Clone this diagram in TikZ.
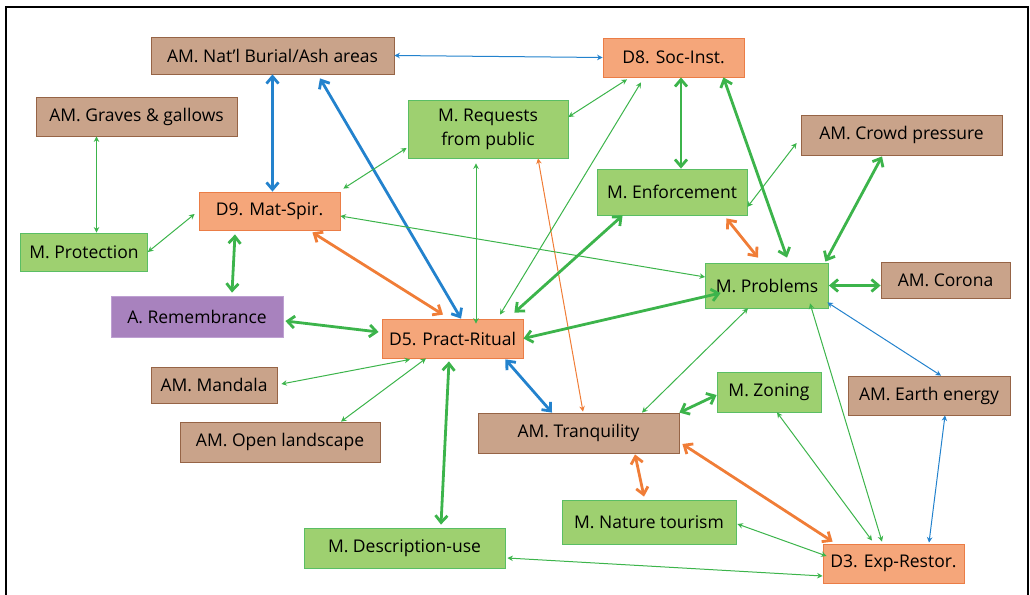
\documentclass[tikz,border=0pt]{standalone}
\usepackage{fontspec}
\setmainfont{Open Sans}
\usetikzlibrary{arrows.meta}

\definecolor{amfill}{RGB}{201,163,138}
\definecolor{amline}{RGB}{150,100,70}
\definecolor{dfill}{RGB}{245,166,122}
\definecolor{dline}{RGB}{235,125,70}
\definecolor{mfill}{RGB}{158,208,112}
\definecolor{mline}{RGB}{90,190,100}
\definecolor{afill}{RGB}{168,130,190}
\definecolor{aline}{RGB}{190,160,210}
\definecolor{grn}{RGB}{60,180,75}
\definecolor{blu}{RGB}{35,130,205}
\definecolor{orn}{RGB}{240,125,55}

\begin{document}
\begin{tikzpicture}[x=1pt, y=-1pt,
  box/.style={font=\fontsize{17.5}{24}\selectfont, text=black, inner sep=0pt, align=center, line width=0.8pt},
  amnode/.style={box, fill=amfill, draw=amline},
  dnode/.style={box, fill=dfill, draw=dline},
  mnode/.style={box, fill=mfill, draw=mline},
  anode/.style={box, fill=afill, draw=aline},
  thk/.style={line width=2.8pt, {Straight Barb[length=7pt,width=12pt]}-{Straight Barb[length=7pt,width=12pt]}},
  thn/.style={line width=1pt, {Stealth[length=5.5pt,width=5.5pt]}-{Stealth[length=5.5pt,width=5.5pt]}}]

\useasboundingbox (0,0) rectangle (1030,594);
\draw [line width=2pt] (6,7) rectangle (1028,620);

\node [amnode, minimum width=243pt, minimum height=37pt] (burial) at (272.5,55.5) {AM. Nat’l Burial/Ash areas};
\node [amnode, minimum width=201pt, minimum height=39pt] (graves) at (136.5,116.5) {AM. Graves \& gallows};
\node [mnode, minimum width=160pt, minimum height=58pt] (requests) at (488,129) {M. Requests\\from public};
\node [dnode, minimum width=141pt, minimum height=38pt] (d9) at (269.5,211) {D9. Mat-Spir.};
\node [mnode, minimum width=127pt, minimum height=38pt] (protection) at (84,252) {M. Protection};
\node [dnode, minimum width=141pt, minimum height=39pt] (d8) at (673.5,57.5) {D8. Soc-Inst.};
\node [amnode, minimum width=201pt, minimum height=40pt] (crowd) at (901.5,135) {AM. Crowd pressure};
\node [mnode, minimum width=150pt, minimum height=46pt] (enforce) at (672,192) {M. Enforcement};
\node [mnode, minimum width=123pt, minimum height=45pt] (problems) at (767,285.5) {M. Problems};
\node [amnode, minimum width=129pt, minimum height=36pt] (corona) at (945.5,280) {AM. Corona};
\node [anode, minimum width=172pt, minimum height=41pt] (remem) at (197,316.5) {A. Remembrance};
\node [dnode, minimum width=141pt, minimum height=39pt] (d5) at (452.5,338.5) {D5. Pract-Ritual};
\node [amnode, minimum width=126pt, minimum height=36pt] (mandala) at (214,385) {AM. Mandala};
\node [amnode, minimum width=200pt, minimum height=40pt] (openl) at (280,442) {AM. Open landscape};
\node [mnode, minimum width=201pt, minimum height=40pt] (descr) at (404.5,548) {M. Description-use};
\node [amnode, minimum width=201pt, minimum height=40pt] (tranq) at (578.5,433) {AM. Tranquility};
\node [mnode, minimum width=104pt, minimum height=40pt] (zoning) at (769,392) {M. Zoning};
\node [amnode, minimum width=162pt, minimum height=39pt] (earth) at (929,395.5) {AM. Earth energy};
\node [mnode, minimum width=174pt, minimum height=44pt] (nature) at (649,522) {M. Nature tourism};
\node [dnode, minimum width=141pt, minimum height=39pt] (d3) at (893.5,563.5) {D3. Exp-Restor.};

% blue links
\draw [thn,blu] (burial.east) -- (d8.west);
\draw [thk,blu] (burial.south) -- (burial.south |- d9.north);
\draw [thk,blu] ([xshift=47.5pt,yshift=-4pt]burial.south) -- ([xshift=8.5pt]d5.north);
\draw [thk,blu] ([xshift=-18pt,yshift=-1pt]d5.south east) -- ([xshift=-26.5pt]tranq.north);
\draw [thn,blu] ([xshift=-1.5pt,yshift=6pt]problems.south east) -- ([xshift=12pt]earth.north);
\draw [thn,blu] ([xshift=16pt]earth.south) -- ([xshift=35.5pt,yshift=1pt]d3.north);

% orange links
\draw [thk,orn] ([xshift=-28pt,yshift=-2pt]d9.south east) -- ([xshift=-9.5pt,yshift=4pt]d5.north);
\draw [thn,orn] ([xshift=50pt]requests.south) -- ([xshift=4.5pt,yshift=1pt]tranq.north);
\draw [thk,orn] ([xshift=-21pt,yshift=-3pt]enforce.south east) -- ([xshift=-9pt,yshift=5pt]problems.north);
\draw [thk,orn] ([xshift=56.5pt,yshift=-1pt]tranq.south) -- ([xshift=-5pt,yshift=3pt]nature.north);
\draw [thk,orn] ([xshift=3pt,yshift=-11pt]tranq.east) -- ([xshift=10pt,yshift=2pt]d3.north west);

% green links
\draw [thn,grn] ([xshift=-40pt]graves.south) -- ([xshift=-40pt]graves.south |- protection.north);
\draw [thn,grn] (protection.east) -- ([xshift=-4pt,yshift=-3pt]d9.west);
\draw [thn,grn] ([xshift=3pt,yshift=3pt]d9.north east) -- ([xshift=-1pt,yshift=-19pt]requests.west);
\draw [thk,grn] ([xshift=-34.5pt,yshift=-4pt]d9.south) -- ([xshift=35pt,yshift=3pt]remem.north);
\draw [thn,grn] ([yshift=-5pt]d9.east) -- ([yshift=8.5pt]problems.west);
\draw [thn,grn] ([yshift=12pt]requests.east) -- ([xshift=-46.5pt,yshift=-2pt]d8.south);
\draw [thn,grn] ([xshift=-12pt,yshift=-5pt]requests.south) -- ([xshift=-12pt,yshift=-5pt]requests.south |- d5.north);
\draw [thn,grn] ([xshift=-32.5pt,yshift=-5pt]d8.south) -- ([xshift=47.5pt,yshift=4pt]d5.north);
\draw [thk,grn] ([xshift=7.5pt]d8.south) -- ([xshift=7.5pt]d8.south |- enforce.north);
\draw [thk,grn] ([xshift=-21pt]d8.south east) -- ([xshift=20pt,yshift=5pt]problems.north);
\draw [thn,grn] ([yshift=-15pt]enforce.east) -- ([xshift=-4pt,yshift=-8pt]crowd.west);
\draw [thk,grn] ([xshift=26pt]enforce.south west) -- ([xshift=-9pt,yshift=6pt]d5.north east);
\draw [thk,grn] ([xshift=-19.5pt,yshift=-1pt]crowd.south) -- ([xshift=-3.5pt,yshift=1pt]problems.north east);
\draw [thk,grn] (problems.east) -- (problems.east -| corona.west);
\draw [thk,grn] ([xshift=15.5pt,yshift=-7.5pt]problems.west) -- (d5.east);
\draw [thn,grn] ([xshift=-19pt]problems.south) -- ([xshift=63.5pt]tranq.north);
\draw [thn,grn] ([xshift=43pt,yshift=5pt]problems.south) -- ([xshift=-11.5pt,yshift=2pt]d3.north);
\draw [thk,grn] ([xshift=2pt,yshift=-4.5pt]remem.east) -- ([xshift=-3pt,yshift=6.5pt]d5.west);
\draw [thn,grn] ([xshift=4pt,yshift=1pt]mandala.east) -- ([xshift=-42.5pt,yshift=-1pt]d5.south);
\draw [thn,grn] ([xshift=61pt]openl.north) -- ([xshift=-26.5pt]d5.south);
\draw [thk,grn] ([xshift=-3.5pt,yshift=-3pt]d5.south) -- ([xshift=36.5pt,yshift=3pt]descr.north);
\draw [thk,grn] (tranq.north east) -- ([yshift=-3pt]zoning.west);
\draw [thn,grn] ([xshift=8pt]zoning.south) -- ([xshift=-21.5pt,yshift=3pt]d3.north);
\draw [thn,grn] ([xshift=1pt,yshift=-2pt]nature.east) -- ([xshift=4pt,yshift=7.5pt]d3.west);
\draw [thn,grn] ([xshift=2pt,yshift=-10pt]descr.east) -- ([yshift=-12.5pt]d3.west);
\end{tikzpicture}
\end{document}
